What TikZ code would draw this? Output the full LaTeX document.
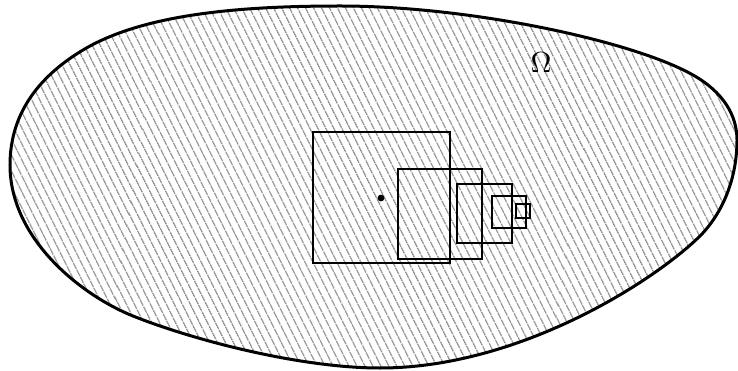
\documentclass[tikz,border=0pt]{standalone}
\usetikzlibrary{patterns.meta}
\begin{document}
\begin{tikzpicture}[x=1pt,y=-1pt,
  regionstyle/.style={line width=3pt, pattern={Lines[angle=-63.4,distance=7.4pt,line width=1.3pt]}, pattern color=black!45},
  sq/.style={line width=2pt},
  lbl/.style={inner sep=0pt}]
\useasboundingbox (0,0) rectangle (738,371);
\draw[regionstyle] (10,165) .. controls (10,110) and (43,74) .. (83,50)
  .. controls (143,14) and (240,6) .. (340,6)
  .. controls (470,6) and (633,41) .. (693,75)
  .. controls (723,92) and (737,115) .. (737,140)
  .. controls (737,175) and (725,210) .. (701,235)
  .. controls (656,280) and (520,368) .. (380,368)
  .. controls (300,368) and (193,340) .. (133,316)
  .. controls (83,296) and (10,240) .. cycle;
\node[lbl] (omega) at (541,63) {\scalebox{2.9}{$\Omega$}};
\draw[sq] (313,132) rectangle (450,263);
\draw[sq] (398,169) rectangle (482,259);
\draw[sq] (457,184) rectangle (512,243);
\draw[sq] (492,196) rectangle (526,228);
\draw[sq] (516,204) rectangle (530,218.5);
\fill (381,198) circle (3.4pt);
\end{tikzpicture}
\end{document}
